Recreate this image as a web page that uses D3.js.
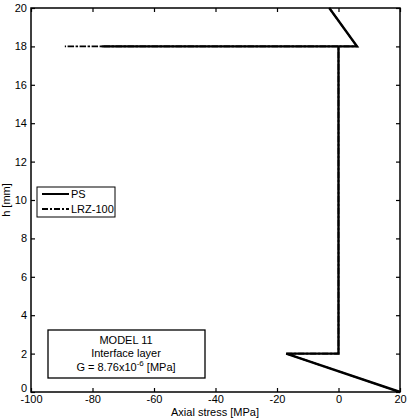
<!DOCTYPE html>
<html><head><meta charset="utf-8"><script src="https://cdn.jsdelivr.net/npm/d3@7"></script>
<style>body{margin:0;background:#fff}text{font-family:"Liberation Sans",Arial,sans-serif}</style>
</head><body><div id="chart"></div>
<script>
// stress profiles (x = axial stress MPa, y = h mm)
const psStress = [20, -17, 0, 0, -77, 6, -3];
const psH = [0, 2, 2, 18, 18, 18, 20];
const lrzStress = [20, -17, 0, 0, -89, 6, -3];
const lrzH = [0, 2, 2, 18, 18, 18, 20];
const xTicks = [-100, -80, -60, -40, -20, 0, 20];
const yTicks = [0, 2, 4, 6, 8, 10, 12, 14, 16, 18, 20];

var svg = d3.select("#chart").append("svg").attr("width", 420).attr("height", 420);
var x = d3.scaleLinear().domain([-100, 20]).range([31, 400]);
var y = d3.scaleLinear().domain([0, 20]).range([392, 8]);
var fmt = d => String(d);

svg.append("rect").attr("x", 31).attr("y", 8).attr("width", 369).attr("height", 384)
  .attr("fill", "none").attr("stroke", "#000").attr("stroke-width", 1.5);

var xa = svg.append("g").attr("transform", "translate(0,392)")
  .call(d3.axisBottom(x).tickValues(xTicks).tickSize(-4).tickPadding(6).tickFormat(fmt))
  .call(g => g.select(".domain").remove());
svg.append("g").attr("transform", "translate(0,8)")
  .call(d3.axisBottom(x).tickValues(xTicks).tickSize(4).tickFormat(""))
  .call(g => g.select(".domain").remove());
var ya = svg.append("g").attr("transform", "translate(31,0)")
  .call(d3.axisLeft(y).tickValues(yTicks).tickSize(-4).tickPadding(4).tickFormat(fmt))
  .call(g => g.select(".domain").remove());
svg.append("g").attr("transform", "translate(400,0)")
  .call(d3.axisLeft(y).tickValues(yTicks).tickSize(4).tickFormat(""))
  .call(g => g.select(".domain").remove());
svg.selectAll(".tick line").attr("stroke", "#000").attr("stroke-width", 1.2);
svg.selectAll(".tick text").attr("font-size", 11).attr("fill", "#000")
  .style("font-family", "Liberation Sans, Arial, sans-serif");
xa.selectAll(".tick text").attr("dy", "0.45em");
ya.selectAll(".tick text").filter(d => d === 0).attr("dy", "-0.05em");

svg.append("text").attr("x", 215).attr("y", 416).attr("text-anchor", "middle")
  .attr("font-size", 11).text("Axial stress [MPa]");
svg.append("text").attr("transform", "translate(10,200) rotate(-90)").attr("text-anchor", "middle")
  .attr("font-size", 11).text("h [mm]");

var line = d3.line().x(d => x(d[0])).y(d => y(d[1]));
svg.append("path").datum(d3.zip(lrzStress, lrzH)).attr("d", line)
  .attr("fill", "none").attr("stroke", "#000").attr("stroke-width", 1.6).attr("stroke-dasharray", "6,2,2,2");
svg.append("path").datum(d3.zip(psStress, psH)).attr("d", line)
  .attr("fill", "none").attr("stroke", "#000").attr("stroke-width", 2.4);

// legend
var lg = svg.append("g");
lg.append("rect").attr("x", 37).attr("y", 187).attr("width", 78).attr("height", 30)
  .attr("fill", "#fff").attr("stroke", "#000");
lg.append("line").attr("x1", 42).attr("x2", 69).attr("y1", 194).attr("y2", 194).attr("stroke", "#000").attr("stroke-width", 2);
lg.append("line").attr("x1", 42).attr("x2", 69).attr("y1", 209).attr("y2", 209).attr("stroke", "#000").attr("stroke-width", 2).attr("stroke-dasharray", "6,2,2,2");
lg.append("text").attr("x", 71).attr("y", 198).attr("font-size", 11).text("PS");
lg.append("text").attr("x", 71).attr("y", 213).attr("font-size", 11).text("LRZ-100");

// model box
var mb = svg.append("g");
mb.append("rect").attr("x", 48).attr("y", 330).attr("width", 157).attr("height", 48)
  .attr("fill", "#fff").attr("stroke", "#000").attr("stroke-width", 1.3);
mb.append("text").attr("x", 126).attr("y", 344).attr("text-anchor", "middle").attr("font-size", 11).text("MODEL 11");
mb.append("text").attr("x", 126).attr("y", 357).attr("text-anchor", "middle").attr("font-size", 11).text("Interface layer");
var t = mb.append("text").attr("x", 126).attr("y", 371).attr("text-anchor", "middle").attr("font-size", 11);
t.append("tspan").text("G = 8.76x10");
t.append("tspan").attr("dy", -5).attr("font-size", 8).text("-6");
t.append("tspan").attr("dy", 5).text("  [MPa]");
</script></body></html>
